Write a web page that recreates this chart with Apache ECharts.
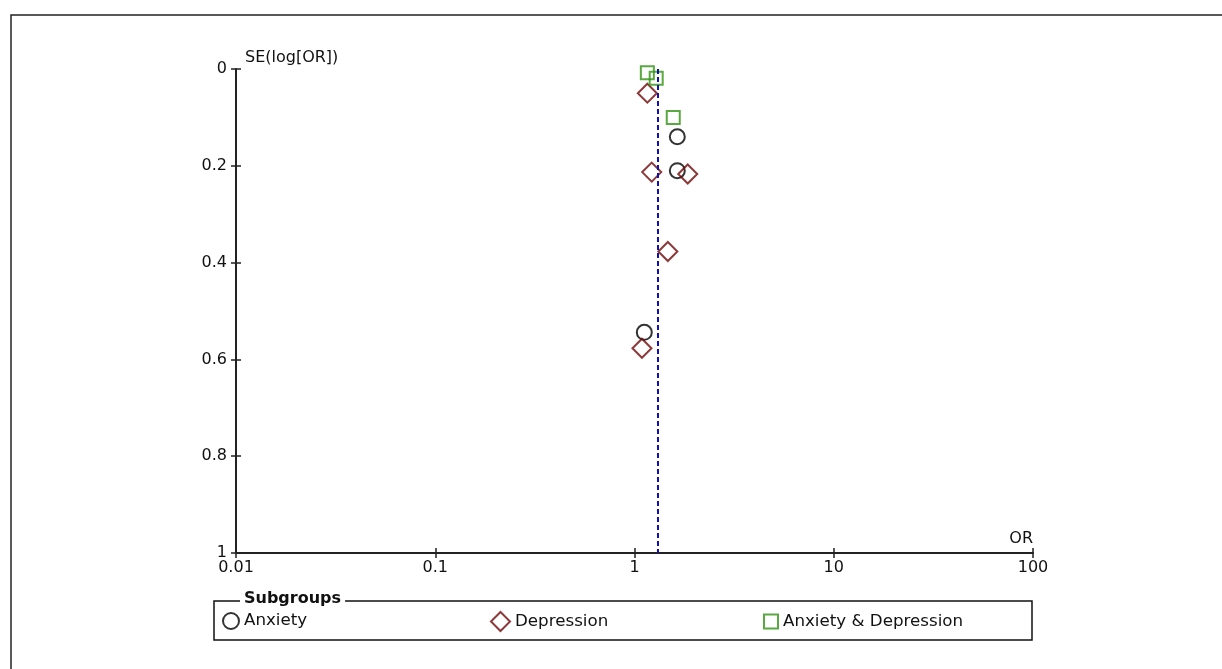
<!DOCTYPE html>
<html>
<head>
<meta charset="utf-8">
<script src="https://cdn.jsdelivr.net/npm/echarts@6/dist/echarts.min.js"></script>
<style>
  html, body { margin: 0; padding: 0; background: #fff; }
  #main { width: 1222px; height: 669px; }
</style>
</head>
<body>
<div id="main"></div>
<script>
// funnel plot data (OR, SE(log[OR]))
var anxietyOR = [1.64, 1.64, 1.12];
var anxietySE = [0.140, 0.210, 0.544];
var depressionOR = [1.16, 1.22, 1.85, 1.47, 1.09];
var depressionSE = [0.050, 0.213, 0.217, 0.377, 0.577];
var bothOR = [1.16, 1.285, 1.565];
var bothSE = [0.008, 0.019, 0.100];
var pooledOR = 1.31;
var xTicks = [0.01, 0.1, 1, 10, 100];
var yTicks = [0, 0.2, 0.4, 0.6, 0.8, 1];
var groupNames = ['Anxiety', 'Depression', 'Anxiety & Depression'];

function pairs(xs, ys) {
  return xs.map(function (x, i) { return [x, ys[i]]; });
}

var font = 'DejaVu Sans';
var fs = 16;
var chart = echarts.init(document.getElementById('main'));

var option = {
  backgroundColor: '#fff',
  animation: false,
  textStyle: { fontFamily: font, color: '#111' },
  grid: { left: 236, right: 189, top: 69, bottom: 116 },
  xAxis: [{
    type: 'log',
    logBase: 10,
    min: xTicks[0],
    max: xTicks[xTicks.length - 1],
    position: 'bottom',
    name: 'OR',
    nameLocation: 'end',
    nameGap: 0,
    nameTextStyle: { fontSize: fs, color: '#111', align: 'right', verticalAlign: 'bottom', padding: [0, 0, 6, 0] },
    axisLine: { onZero: false, lineStyle: { color: '#222', width: 2 } },
    axisTick: { length: 5, lineStyle: { color: '#222', width: 1.5 } },
    axisLabel: {
      fontSize: fs, color: '#111', margin: 7,
      formatter: function (v) { return String(+v.toPrecision(3)); }
    },
    splitLine: { show: false },
    minorTick: { show: false }
  }, {
    // inner half of the crossing ticks
    type: 'log',
    logBase: 10,
    min: xTicks[0],
    max: xTicks[xTicks.length - 1],
    position: 'bottom',
    axisLine: { show: false, onZero: false },
    axisTick: { inside: true, length: 5, lineStyle: { color: '#222', width: 1.5 } },
    axisLabel: { show: false },
    splitLine: { show: false }
  }],
  yAxis: [{
    type: 'value',
    inverse: true,
    min: 0,
    max: 1,
    interval: 0.2,
    name: 'SE(log[OR])',
    nameLocation: 'start',
    nameGap: 3,
    nameTextStyle: { fontSize: fs, color: '#111', align: 'left', verticalAlign: 'bottom', padding: [0, 0, 0, 9] },
    axisLine: { show: true, onZero: false, lineStyle: { color: '#222', width: 2 } },
    axisTick: { show: true, length: 5, lineStyle: { color: '#222', width: 1.5 } },
    axisLabel: { fontSize: fs, color: '#111', margin: 9 },
    splitLine: { show: false }
  }, {
    type: 'value',
    inverse: true,
    min: 0,
    max: 1,
    interval: 0.2,
    position: 'left',
    axisLine: { show: false, onZero: false },
    axisTick: { show: true, inside: true, length: 5, lineStyle: { color: '#222', width: 1.5 } },
    axisLabel: { show: false },
    splitLine: { show: false }
  }],
  legend: [{
    data: [groupNames[0]],
    left: 222, top: 612, padding: 0,
    itemWidth: 16, itemHeight: 16,
    textStyle: { fontSize: 16.7, color: '#111', fontFamily: font }
  }, {
    data: [groupNames[1]],
    left: 490, top: 611, padding: 0,
    itemWidth: 19, itemHeight: 19,
    textStyle: { fontSize: 16.7, color: '#111', fontFamily: font }
  }, {
    data: [groupNames[2]],
    left: 763, top: 613, padding: 0,
    itemWidth: 14, itemHeight: 14,
    textStyle: { fontSize: 16.7, color: '#111', fontFamily: font }
  }],
  graphic: [{
    type: 'rect',
    shape: { x: 11, y: 15, width: 1230, height: 680 },
    style: { fill: 'none', stroke: '#222', lineWidth: 1.5 },
    silent: true
  }, {
    type: 'rect',
    shape: { x: 214, y: 601, width: 818, height: 39 },
    style: { fill: 'none', stroke: '#111', lineWidth: 1.5 },
    silent: true
  }, {
    type: 'text',
    left: 240, top: 591,
    style: {
      text: 'Subgroups', fontFamily: font, fontSize: fs, fontWeight: 'bold',
      fill: '#111', backgroundColor: '#fff', padding: [0, 4, 0, 4]
    },
    silent: true
  }],
  series: [{
    name: groupNames[0],
    type: 'scatter',
    symbol: 'circle',
    symbolSize: 15,
    itemStyle: { color: 'rgba(0,0,0,0)', borderColor: '#000', borderWidth: 2 },
    data: pairs(anxietyOR, anxietySE),
    z: 3
  }, {
    name: groupNames[1],
    type: 'scatter',
    symbol: 'diamond',
    symbolSize: 19,
    itemStyle: { color: 'rgba(0,0,0,0)', borderColor: '#700808', borderWidth: 2 },
    data: pairs(depressionOR, depressionSE),
    z: 3
  }, {
    name: groupNames[2],
    type: 'scatter',
    symbol: 'rect',
    symbolSize: 13,
    itemStyle: { color: 'rgba(0,0,0,0)', borderColor: '#2f9410', borderWidth: 2 },
    data: pairs(bothOR, bothSE),
    markLine: {
      silent: true,
      symbol: 'none',
      label: { show: false },
      lineStyle: { color: '#1010aa', type: [5, 3], width: 2 },
      data: [{ xAxis: pooledOR }]
    },
    z: 3
  }]
};

chart.setOption(option);
</script>
</body>
</html>
